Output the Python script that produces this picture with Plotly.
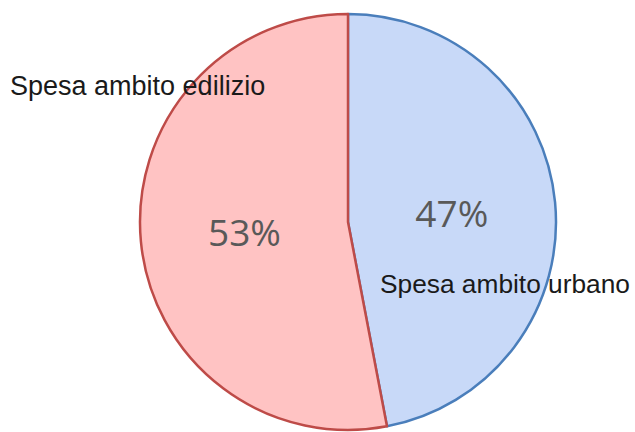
import plotly.graph_objects as go

categories = ["Spesa ambito urbano", "Spesa ambito edilizio"]
values = [47, 53]
fill_colors = ["#C8D9F8", "#FFC3C3"]
line_colors = ["#4A7EBB", "#BE4B48"]
label_pos = [(378 / 635, 1 - 284 / 432), (8 / 635, 1 - 86 / 432)]
label_sizes = [26.3, 27]

cx, top, r = 348, 14, 208

fig = go.Figure(go.Pie(
    labels=categories,
    values=values,
    sort=False,
    direction="clockwise",
    rotation=0,
    marker=dict(colors=fill_colors, line=dict(color=line_colors, width=2.5)),
    texttemplate="%{percent:.0%}",
    textposition="inside",
    insidetextorientation="horizontal",
    textfont=dict(family="Open Sans, sans-serif", size=37, color="#595959"),
    domain=dict(x=[(cx - r) / 635, (cx + r) / 635],
                y=[(432 - top - 2 * r) / 432, (432 - top) / 432]),
    showlegend=False,
    hoverinfo="label+percent",
))

for name, (px, py), fs in zip(categories, label_pos, label_sizes):
    fig.add_annotation(
        text=name, x=px, y=py, xref="paper", yref="paper",
        xanchor="left", yanchor="middle", showarrow=False,
        font=dict(family="Arial, Liberation Sans, sans-serif", size=fs, color="#1a1a1a"),
    )

fig.update_layout(
    width=635, height=432,
    margin=dict(l=0, r=0, t=0, b=0),
    paper_bgcolor="white", plot_bgcolor="white",
)

fig.write_html(
    "out.html",
    config={"displayModeBar": False},
    post_script="document.body.style.margin='0';document.body.style.overflow='hidden';",
)
